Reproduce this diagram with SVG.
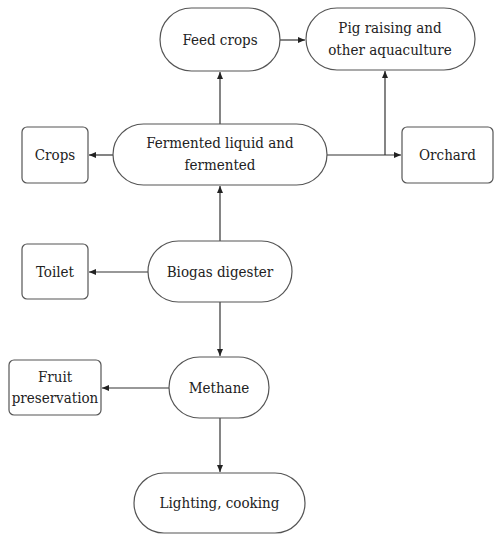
<svg xmlns="http://www.w3.org/2000/svg" width="494" height="535" viewBox="0 0 494 535">
<defs>
<marker id="arr" markerWidth="8" markerHeight="8" refX="7" refY="4" orient="auto" markerUnits="userSpaceOnUse">
<path d="M0,1 L7,4 L0,7 Z" fill="#222"/>
</marker>
<style>
.n{fill:#fff;stroke:#555;stroke-width:1.2}
.t{font-family:'DejaVu Serif Condensed','DejaVu Serif',serif;font-stretch:condensed;font-size:15px;fill:#222;text-anchor:middle}
.c{stroke:#333;stroke-width:1.2;fill:none}
</style>
</defs>
<rect width="494" height="535" fill="#fff"/>
<g id="connectors">
<path class="c" d="M280,40 H305" marker-end="url(#arr)"/>
<path class="c" d="M220,124 V72" marker-end="url(#arr)"/>
<path class="c" d="M385,155 V71" marker-end="url(#arr)"/>
<path class="c" d="M113,155 H89" marker-end="url(#arr)"/>
<path class="c" d="M327,155 H401" marker-end="url(#arr)"/>
<path class="c" d="M220,241 V186" marker-end="url(#arr)"/>
<path class="c" d="M148,272 H89" marker-end="url(#arr)"/>
<path class="c" d="M220,302 V356" marker-end="url(#arr)"/>
<path class="c" d="M169,388 H102" marker-end="url(#arr)"/>
<path class="c" d="M220,418 V472" marker-end="url(#arr)"/>
</g>
<g id="feed-crops">
<rect class="n" x="160" y="8" width="120" height="63" rx="31.5"/>
<text class="t" x="220" y="45">Feed crops</text>
</g>
<g id="pig-raising">
<rect class="n" x="306" y="8" width="169" height="62" rx="31"/>
<text class="t" x="390" y="33">Pig raising and</text>
<text class="t" x="390" y="55">other aquaculture</text>
</g>
<g id="crops">
<rect class="n" x="22" y="127" width="66" height="56" rx="5"/>
<text class="t" x="55" y="160">Crops</text>
</g>
<g id="fermented">
<rect class="n" x="113" y="124" width="214" height="61" rx="30.5"/>
<text class="t" x="220" y="148">Fermented liquid and</text>
<text class="t" x="220" y="170">fermented</text>
</g>
<g id="orchard">
<rect class="n" x="402" y="127" width="91" height="56" rx="5"/>
<text class="t" x="447.5" y="160">Orchard</text>
</g>
<g id="toilet">
<rect class="n" x="22" y="244" width="66" height="55" rx="5"/>
<text class="t" x="55" y="277">Toilet</text>
</g>
<g id="biogas">
<rect class="n" x="148" y="241" width="144" height="61" rx="30.5"/>
<text class="t" x="220" y="277">Biogas digester</text>
</g>
<g id="fruit">
<rect class="n" x="9" y="360" width="92" height="55" rx="5"/>
<text class="t" x="55" y="382">Fruit</text>
<text class="t" x="55" y="403">preservation</text>
</g>
<g id="methane">
<rect class="n" x="169" y="357" width="100" height="61" rx="30.5"/>
<text class="t" x="219" y="393">Methane</text>
</g>
<g id="lighting">
<rect class="n" x="134" y="473" width="171" height="60" rx="30"/>
<text class="t" x="219.5" y="508">Lighting, cooking</text>
</g>
</svg>
